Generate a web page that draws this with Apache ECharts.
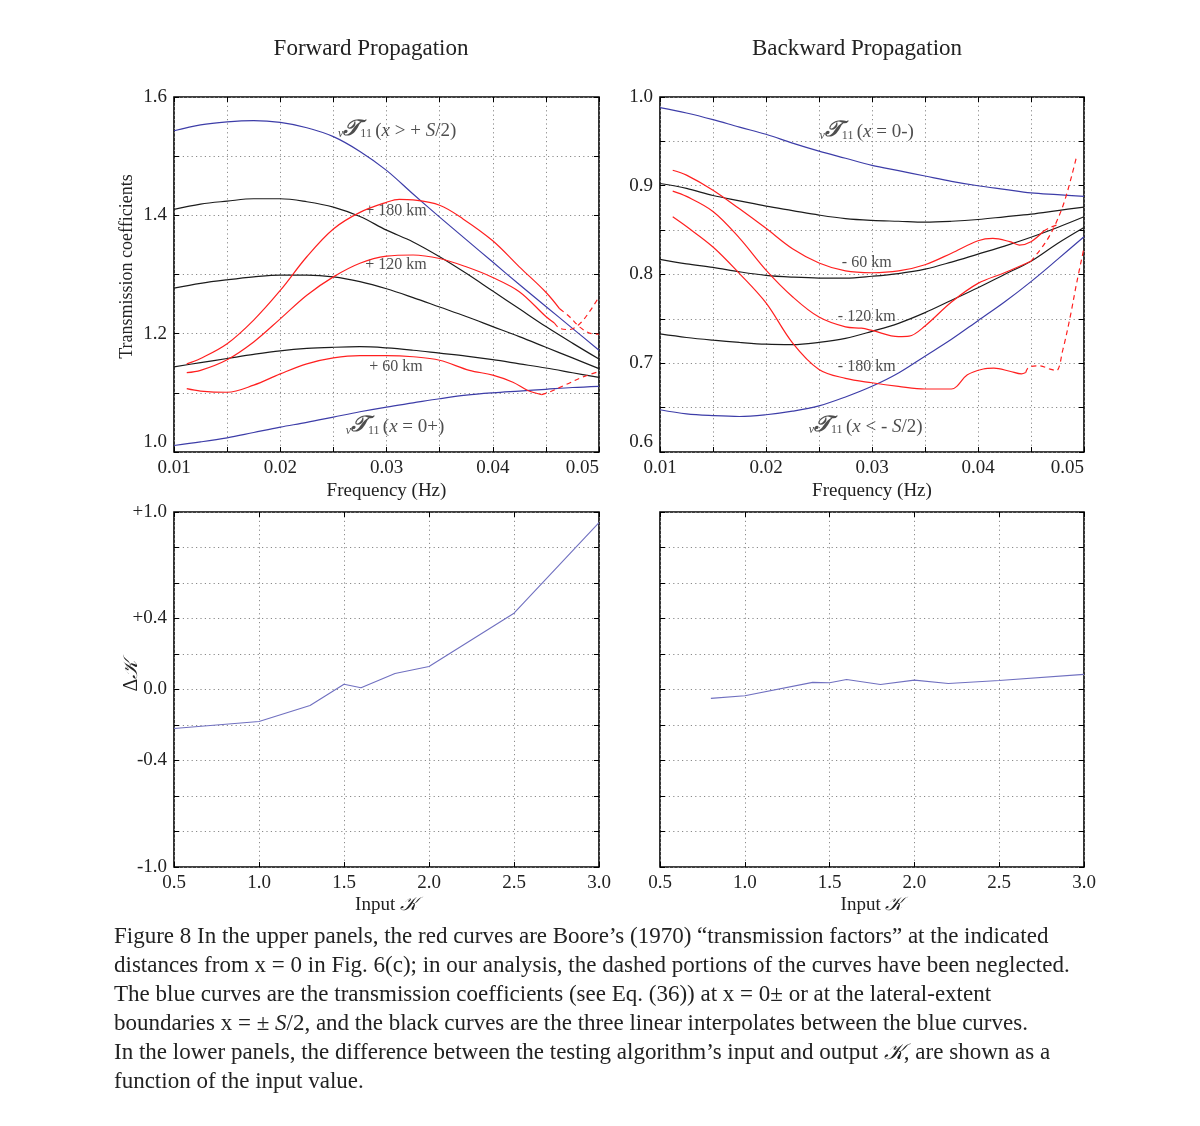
<!DOCTYPE html>
<html><head><meta charset="utf-8">
<script src="https://cdn.jsdelivr.net/npm/echarts@6/dist/echarts.min.js"></script>
<style>html,body{margin:0;padding:0;background:#fff}#c{width:1200px;height:1126px}</style>
</head><body><div id="c"></div>
<script>
// ---------------- DATA ----------------
const freq = [0.010,0.0125,0.015,0.0175,0.020,0.0225,0.025,0.0275,0.030,0.0325,0.035,0.0375,0.040,0.0425,0.045,0.0475,0.050];

// Forward propagation (upper left)
const fwdBlueOuter = [1.543,1.553,1.558,1.560,1.557,1.548,1.533,1.508,1.476,1.436,1.397,1.359,1.321,1.283,1.246,1.209,1.172]; // x > +S/2
const fwdBlueInner = [1.011,1.017,1.024,1.033,1.042,1.050,1.059,1.068,1.076,1.083,1.090,1.096,1.100,1.103,1.106,1.109,1.111]; // x = 0+
const fwdBlack180 = [1.410,1.419,1.424,1.428,1.428,1.423,1.414,1.398,1.375,1.355,1.330,1.302,1.272,1.242,1.212,1.184,1.157];
const fwdBlack120 = [1.277,1.285,1.291,1.296,1.299,1.299,1.296,1.288,1.276,1.261,1.245,1.229,1.212,1.195,1.177,1.159,1.141];
const fwdBlack60  = [1.144,1.151,1.158,1.165,1.171,1.175,1.177,1.178,1.176,1.172,1.167,1.162,1.156,1.149,1.142,1.134,1.126];
const fwdRed180 = [[0.0112,1.149],[0.0125,1.158],[0.015,1.183],[0.0175,1.223],[0.020,1.273],[0.0225,1.330],[0.025,1.377],[0.0275,1.405],[0.030,1.422],[0.0312,1.427],[0.0325,1.426],[0.035,1.417],[0.0372,1.394],[0.040,1.357],[0.0425,1.313],[0.045,1.270],[0.0463,1.242]];
const fwdRed180Dashed = [[0.0463,1.242],[0.0472,1.229],[0.0482,1.211],[0.0491,1.201],[0.050,1.199]];
const fwdRed120 = [[0.0112,1.134],[0.0125,1.138],[0.015,1.156],[0.0175,1.186],[0.020,1.225],[0.0225,1.265],[0.025,1.296],[0.0275,1.319],[0.030,1.331],[0.0325,1.333],[0.035,1.327],[0.0375,1.313],[0.040,1.295],[0.0425,1.271],[0.045,1.229],[0.0458,1.218]];
const fwdRed120Dashed = [[0.0458,1.218],[0.0463,1.209],[0.0472,1.207],[0.0482,1.217],[0.0491,1.237],[0.050,1.262]];
const fwdRed60 = [[0.0112,1.107],[0.0125,1.103],[0.015,1.101],[0.0175,1.113],[0.020,1.132],[0.0225,1.149],[0.025,1.159],[0.0275,1.163],[0.030,1.163],[0.0325,1.161],[0.035,1.155],[0.0378,1.138],[0.040,1.130],[0.0419,1.118],[0.0433,1.104],[0.0446,1.097]];
const fwdRed60Dashed = [[0.0446,1.097],[0.0453,1.101],[0.0469,1.114],[0.0485,1.127],[0.050,1.136]];

// Backward propagation (upper right)
const bwdBlueInner = [0.988,0.982,0.9745,0.966,0.958,0.948,0.939,0.931,0.923,0.917,0.911,0.905,0.900,0.896,0.892,0.890,0.888]; // x = 0-
const bwdBlueOuter = [0.6476,0.643,0.641,0.640,0.642,0.646,0.652,0.662,0.674,0.689,0.708,0.727,0.748,0.769,0.792,0.817,0.8425]; // x < -S/2
const bwdBlack60  = [0.9025,0.897,0.889,0.883,0.877,0.872,0.867,0.863,0.861,0.860,0.859,0.860,0.862,0.865,0.868,0.872,0.876];
const bwdBlack120 = [0.817,0.812,0.808,0.803,0.799,0.797,0.796,0.796,0.798,0.801,0.806,0.814,0.823,0.832,0.842,0.853,0.865];
const bwdBlack180 = [0.733,0.729,0.726,0.7235,0.7215,0.721,0.7235,0.728,0.736,0.745,0.757,0.771,0.785,0.800,0.815,0.835,0.853];
const bwdRed60 = [[0.0112,0.9175],[0.0125,0.912],[0.015,0.895],[0.0175,0.874],[0.020,0.852],[0.0225,0.829],[0.025,0.813],[0.0275,0.804],[0.030,0.802],[0.0325,0.804],[0.035,0.811],[0.0375,0.824],[0.040,0.838],[0.0414,0.8407],[0.043,0.837],[0.0439,0.8332],[0.045,0.837],[0.0462,0.849]];
const bwdRed60Dashed = [[0.0462,0.849],[0.0468,0.853],[0.0475,0.856]];
const bwdRed120 = [[0.0112,0.894],[0.0125,0.888],[0.015,0.871],[0.0175,0.841],[0.020,0.805],[0.0225,0.775],[0.025,0.752],[0.0275,0.741],[0.029,0.7395],[0.030,0.737],[0.0325,0.730],[0.0335,0.7305],[0.035,0.742],[0.0375,0.769],[0.040,0.790],[0.0425,0.802],[0.045,0.815]];
const bwdRed120Dashed = [[0.045,0.815],[0.0463,0.835],[0.0472,0.854],[0.0482,0.884],[0.0493,0.933]];
const bwdRed180 = [[0.0112,0.865],[0.0125,0.854],[0.015,0.831],[0.0175,0.801],[0.020,0.768],[0.0225,0.723],[0.025,0.693],[0.0275,0.683],[0.030,0.678],[0.0325,0.674],[0.035,0.671],[0.0375,0.671],[0.038,0.674],[0.039,0.687],[0.0405,0.6935],[0.0415,0.6945],[0.043,0.691],[0.0441,0.688],[0.0445,0.6895]];
const bwdRed180Dashed = [[0.0445,0.6895],[0.0448,0.6956],[0.0458,0.697],[0.0468,0.6934],[0.0474,0.6918],[0.048,0.715],[0.0487,0.7525],[0.0493,0.790],[0.050,0.830]];

// Lower panels
const fwdInputK = [0.5,1.0,1.3,1.5,1.6,1.8,2.0,2.5,3.0];
const fwdDeltaK = [-0.22,-0.18,-0.09,0.03,0.01,0.09,0.13,0.43,0.94];
const bwdInputK = [0.8,1.0,1.4,1.5,1.6,1.8,2.0,2.2,2.5,3.0];
const bwdDeltaK = [-0.05,-0.035,0.04,0.038,0.056,0.028,0.053,0.034,0.051,0.085];

// Tick labels
const deltaTickValues = [1.0,0.4,0.0,-0.4,-1.0];
const deltaTickLabels = ['+1.0','+0.4','0.0','-0.4','-1.0'];

const captionLines = [
  'Figure 8 In the upper panels, the red curves are Boore\u2019s (1970) \u201ctransmission factors\u201d at the indicated',
  'distances from x = 0 in Fig. 6(c); in our analysis, the dashed portions of the curves have been neglected.',
  'The blue curves are the transmission coefficients (see Eq. (36)) at x = 0\u00b1 or at the lateral-extent',
  'boundaries x = \u00b1 {i|S}/2, and the black curves are the three linear interpolates between the blue curves.',
  'In the lower panels, the difference between the testing algorithm\u2019s input and output {k|\ud835\udca6}, are shown as a',
  'function of the input value.'
];

// ---------------- STYLE ----------------
const FONT = '"Liberation Serif", "DejaVu Serif", serif';
const SCRIPT_FONT = '"DejaVu Serif", "DejaVu Sans", "Noto Sans", serif';
const BLUE = '#3d3da8', RED = '#ff2020', BLACK = '#1c1c1c', BLUE2 = '#7070c0';
const TXT = '#222';

const grids = [
  {left:174, top:97, width:425, height:355},
  {left:660, top:97, width:424, height:355},
  {left:174, top:512, width:425, height:355},
  {left:660, top:512, width:424, height:355}
].map(g => Object.assign(g, {show:true, borderColor:'#000', borderWidth:1.6, backgroundColor:'transparent', containLabel:false, outerBoundsMode:'none'}));

const near = (a, b) => Math.abs(a - b) < 1e-6;
const fmtFreq = v => near(v*100, Math.round(v*100)) ? v.toFixed(2) : '';
const fmtFwdY = v => near(v*5, Math.round(v*5)) ? v.toFixed(1) : '';
const fmtBwdY = v => near(v*10, Math.round(v*10)) ? v.toFixed(1) : '';
const fmtDelta = v => { const i = deltaTickValues.findIndex(t => near(t, v)); return i >= 0 ? deltaTickLabels[i] : ''; };
const fmtK = v => v.toFixed(1);

const splitStyle = {show:true, lineStyle:{color:'#8a8a8a', width:1, type:[1.2,3.2]}};
const tickStyle = {show:true, inside:true, length:5, lineStyle:{color:'#000', width:1}};
const nameStyle = {fontFamily:FONT, fontSize:19, color:TXT};
const noLine = {show:false, onZero:false};

function xMain(gi, min, max, interval, fmt, name, extra) {
  return {type:'value', gridIndex:gi, min, max, interval, position:'bottom',
    axisLine:noLine, axisTick:tickStyle,
    axisLabel:Object.assign({show:true, formatter:fmt, fontFamily:FONT, fontSize:19, color:TXT, margin:7}, extra||{}),
    splitLine:splitStyle, name, nameLocation:'middle', nameGap:30, nameTextStyle:nameStyle, nameMoveOverlap:false};
}
function yMain(gi, min, max, interval, fmt, name, showLabel, extra) {
  return {type:'value', gridIndex:gi, min, max, interval, position:'left',
    axisLine:noLine, axisTick:tickStyle,
    axisLabel:Object.assign({show:showLabel, formatter:fmt, fontFamily:FONT, fontSize:19, color:TXT, margin:7}, extra||{}),
    splitLine:splitStyle, name, nameLocation:'middle', nameRotate:90, nameGap:38, nameTextStyle:nameStyle, nameMoveOverlap:false};
}
function xTwin(gi, min, max, interval) {
  return {type:'value', gridIndex:gi, min, max, interval, position:'top', axisLine:noLine, axisTick:tickStyle, axisLabel:{show:false}, splitLine:{show:false}};
}
function yTwin(gi, min, max, interval) {
  return {type:'value', gridIndex:gi, min, max, interval, position:'right', axisLine:noLine, axisTick:tickStyle, axisLabel:{show:false}, splitLine:{show:false}};
}

const xAxes = [
  xMain(0, 0.01, 0.05, 0.005, fmtFreq, 'Frequency (Hz)', {alignMaxLabel:'right'}),
  xMain(1, 0.01, 0.05, 0.005, fmtFreq, 'Frequency (Hz)', {alignMaxLabel:'right'}),
  xMain(2, 0.5, 3.0, 0.5, fmtK, 'Input {k|\ud835\udca6}'),
  xMain(3, 0.5, 3.0, 0.5, fmtK, 'Input {k|\ud835\udca6}'),
  xTwin(0, 0.01, 0.05, 0.005), xTwin(1, 0.01, 0.05, 0.005), xTwin(2, 0.5, 3.0, 0.5), xTwin(3, 0.5, 3.0, 0.5)
];
xAxes[2].nameTextStyle = xAxes[3].nameTextStyle = Object.assign({}, nameStyle, {rich:{k:{fontFamily:SCRIPT_FONT, fontSize:19, fontStyle:'italic', color:TXT}}});
xAxes[2].nameGap = xAxes[3].nameGap = 29;

const yAxes = [
  yMain(0, 1.0, 1.6, 0.1, fmtFwdY, 'Transmission coefficients', true, {verticalAlignMinLabel:'bottom'}),
  yMain(1, 0.6, 1.0, 0.05, fmtBwdY, '', true, {verticalAlignMinLabel:'bottom'}),
  yMain(2, -1.0, 1.0, 0.2, fmtDelta, '\u0394{k|\ud835\udca6}', true),
  yMain(3, -1.0, 1.0, 0.2, fmtDelta, '', false),
  yTwin(0, 1.0, 1.6, 0.1), yTwin(1, 0.6, 1.0, 0.05), yTwin(2, -1.0, 1.0, 0.2), yTwin(3, -1.0, 1.0, 0.2)
];
yAxes[0].nameGap = 38;
yAxes[0].nameTextStyle = Object.assign({}, nameStyle, {fontSize:18, padding:[0,0,0,16]});
yAxes[2].nameGap = 32;
yAxes[2].nameTextStyle = Object.assign({}, nameStyle, {fontSize:20, padding:[0,0,0,28], rich:{k:{fontFamily:SCRIPT_FONT, fontSize:20, fontStyle:'italic', color:TXT}}});

const zipF = arr => freq.map((f, i) => [f, arr[i]]);
const zipXY = (xs, ys) => xs.map((x, i) => [x, ys[i]]);

function line(gi, data, color, dashed, width) {
  return {type:'line', xAxisIndex:gi, yAxisIndex:gi, data, symbol:'none', showSymbol:false,
    smooth:0.35, silent:true, animation:false, clip:true,
    lineStyle:{color, width:width||1.2, type: dashed ? [5,4] : 'solid'}};
}

const tRich = {
  n:{fontFamily:FONT, fontSize:19, color:TXT, lineHeight:24, verticalAlign:'bottom'},
  i:{fontFamily:FONT, fontSize:19, fontStyle:'italic', color:TXT, lineHeight:24, verticalAlign:'bottom'},
  T:{fontFamily:SCRIPT_FONT, fontSize:22, fontWeight:'bold', fontStyle:'italic', color:TXT, lineHeight:26, verticalAlign:'bottom'},
  s:{fontFamily:FONT, fontSize:12, fontStyle:'italic', color:TXT, lineHeight:9, verticalAlign:'bottom'},
  d:{fontFamily:FONT, fontSize:12, color:TXT, lineHeight:9, verticalAlign:'bottom'}
};
const kmStyle = {fontFamily:FONT, fontSize:16, color:TXT};

function labels(gi, items) {
  return {type:'scatter', xAxisIndex:gi, yAxisIndex:gi, symbolSize:1, silent:true, animation:false,
    itemStyle:{color:'transparent'},
    data: items.map(it => ({value:[it[0], it[1]], label:{show:true, position:'inside', formatter:it[2], rich:tRich, ...(it[3]||{})}})),
    label:{show:true}};
}

const series = [
  line(0, zipF(fwdBlueOuter), BLUE), line(0, zipF(fwdBlueInner), BLUE),
  line(0, zipF(fwdBlack180), BLACK), line(0, zipF(fwdBlack120), BLACK), line(0, zipF(fwdBlack60), BLACK),
  line(0, fwdRed180, RED), line(0, fwdRed180Dashed, RED, true),
  line(0, fwdRed120, RED), line(0, fwdRed120Dashed, RED, true),
  line(0, fwdRed60, RED), line(0, fwdRed60Dashed, RED, true),
  line(1, zipF(bwdBlueInner), BLUE), line(1, zipF(bwdBlueOuter), BLUE),
  line(1, zipF(bwdBlack60), BLACK), line(1, zipF(bwdBlack120), BLACK), line(1, zipF(bwdBlack180), BLACK),
  line(1, bwdRed60, RED), line(1, bwdRed60Dashed, RED, true),
  line(1, bwdRed120, RED), line(1, bwdRed120Dashed, RED, true),
  line(1, bwdRed180, RED), line(1, bwdRed180Dashed, RED, true),
  Object.assign(line(2, zipXY(fwdInputK, fwdDeltaK), BLUE2, false, 1.1), {smooth:false}),
  Object.assign(line(3, zipXY(bwdInputK, bwdDeltaK), BLUE2, false, 1.1), {smooth:false}),
  labels(0, [
    [0.0310, 1.549, '{s|v}{T|\ud835\udcaf}{d|11} {n|(}{i|x}{n| > + }{i|S}{n|/2)}'],
    [0.0309, 1.408, '+ 180 km', kmStyle],
    [0.0309, 1.317, '+ 120 km', kmStyle],
    [0.0309, 1.144, '+ 60 km', kmStyle],
    [0.0308, 1.048, '{s|v}{T|\ud835\udcaf}{d|11} {n|(}{i|x}{n| = 0+)}']
  ]),
  labels(1, [
    [0.0295, 0.9645, '{s|v}{T|\ud835\udcaf}{d|11} {n|(}{i|x}{n| = 0-)}'],
    [0.0295, 0.8133, '- 60 km', kmStyle],
    [0.0295, 0.7518, '- 120 km', kmStyle],
    [0.0295, 0.6963, '- 180 km', kmStyle],
    [0.0294, 0.6326, '{s|v}{T|\ud835\udcaf}{d|11} {n|(}{i|x}{n| < - }{i|S}{n|/2)}']
  ])
];

const graphic = [
  {type:'text', x:371, y:49, silent:true, style:{text:'Forward Propagation', font:'23px ' + FONT, fill:TXT, align:'center', verticalAlign:'middle'}},
  {type:'text', x:857, y:49, silent:true, style:{text:'Backward Propagation', font:'23px ' + FONT, fill:TXT, align:'center', verticalAlign:'middle'}}
];
captionLines.forEach((t, i) => {
  graphic.push({type:'text', x:114, y:937 + i*29, silent:true, style:{
    text:t, fontFamily:FONT, fontSize:23, fill:TXT, align:'left', verticalAlign:'middle',
    rich:{i:{fontFamily:FONT, fontSize:23, fontStyle:'italic', fill:TXT}, k:{fontFamily:SCRIPT_FONT, fontSize:22, fontStyle:'italic', fill:TXT}}
  }});
});

const chart = echarts.init(document.getElementById('c'), null, {renderer:'canvas', width:1200, height:1126});
chart.setOption({
  backgroundColor:'#fff', animation:false,
  grid:grids, xAxis:xAxes, yAxis:yAxes, series, graphic
});
</script></body></html>
